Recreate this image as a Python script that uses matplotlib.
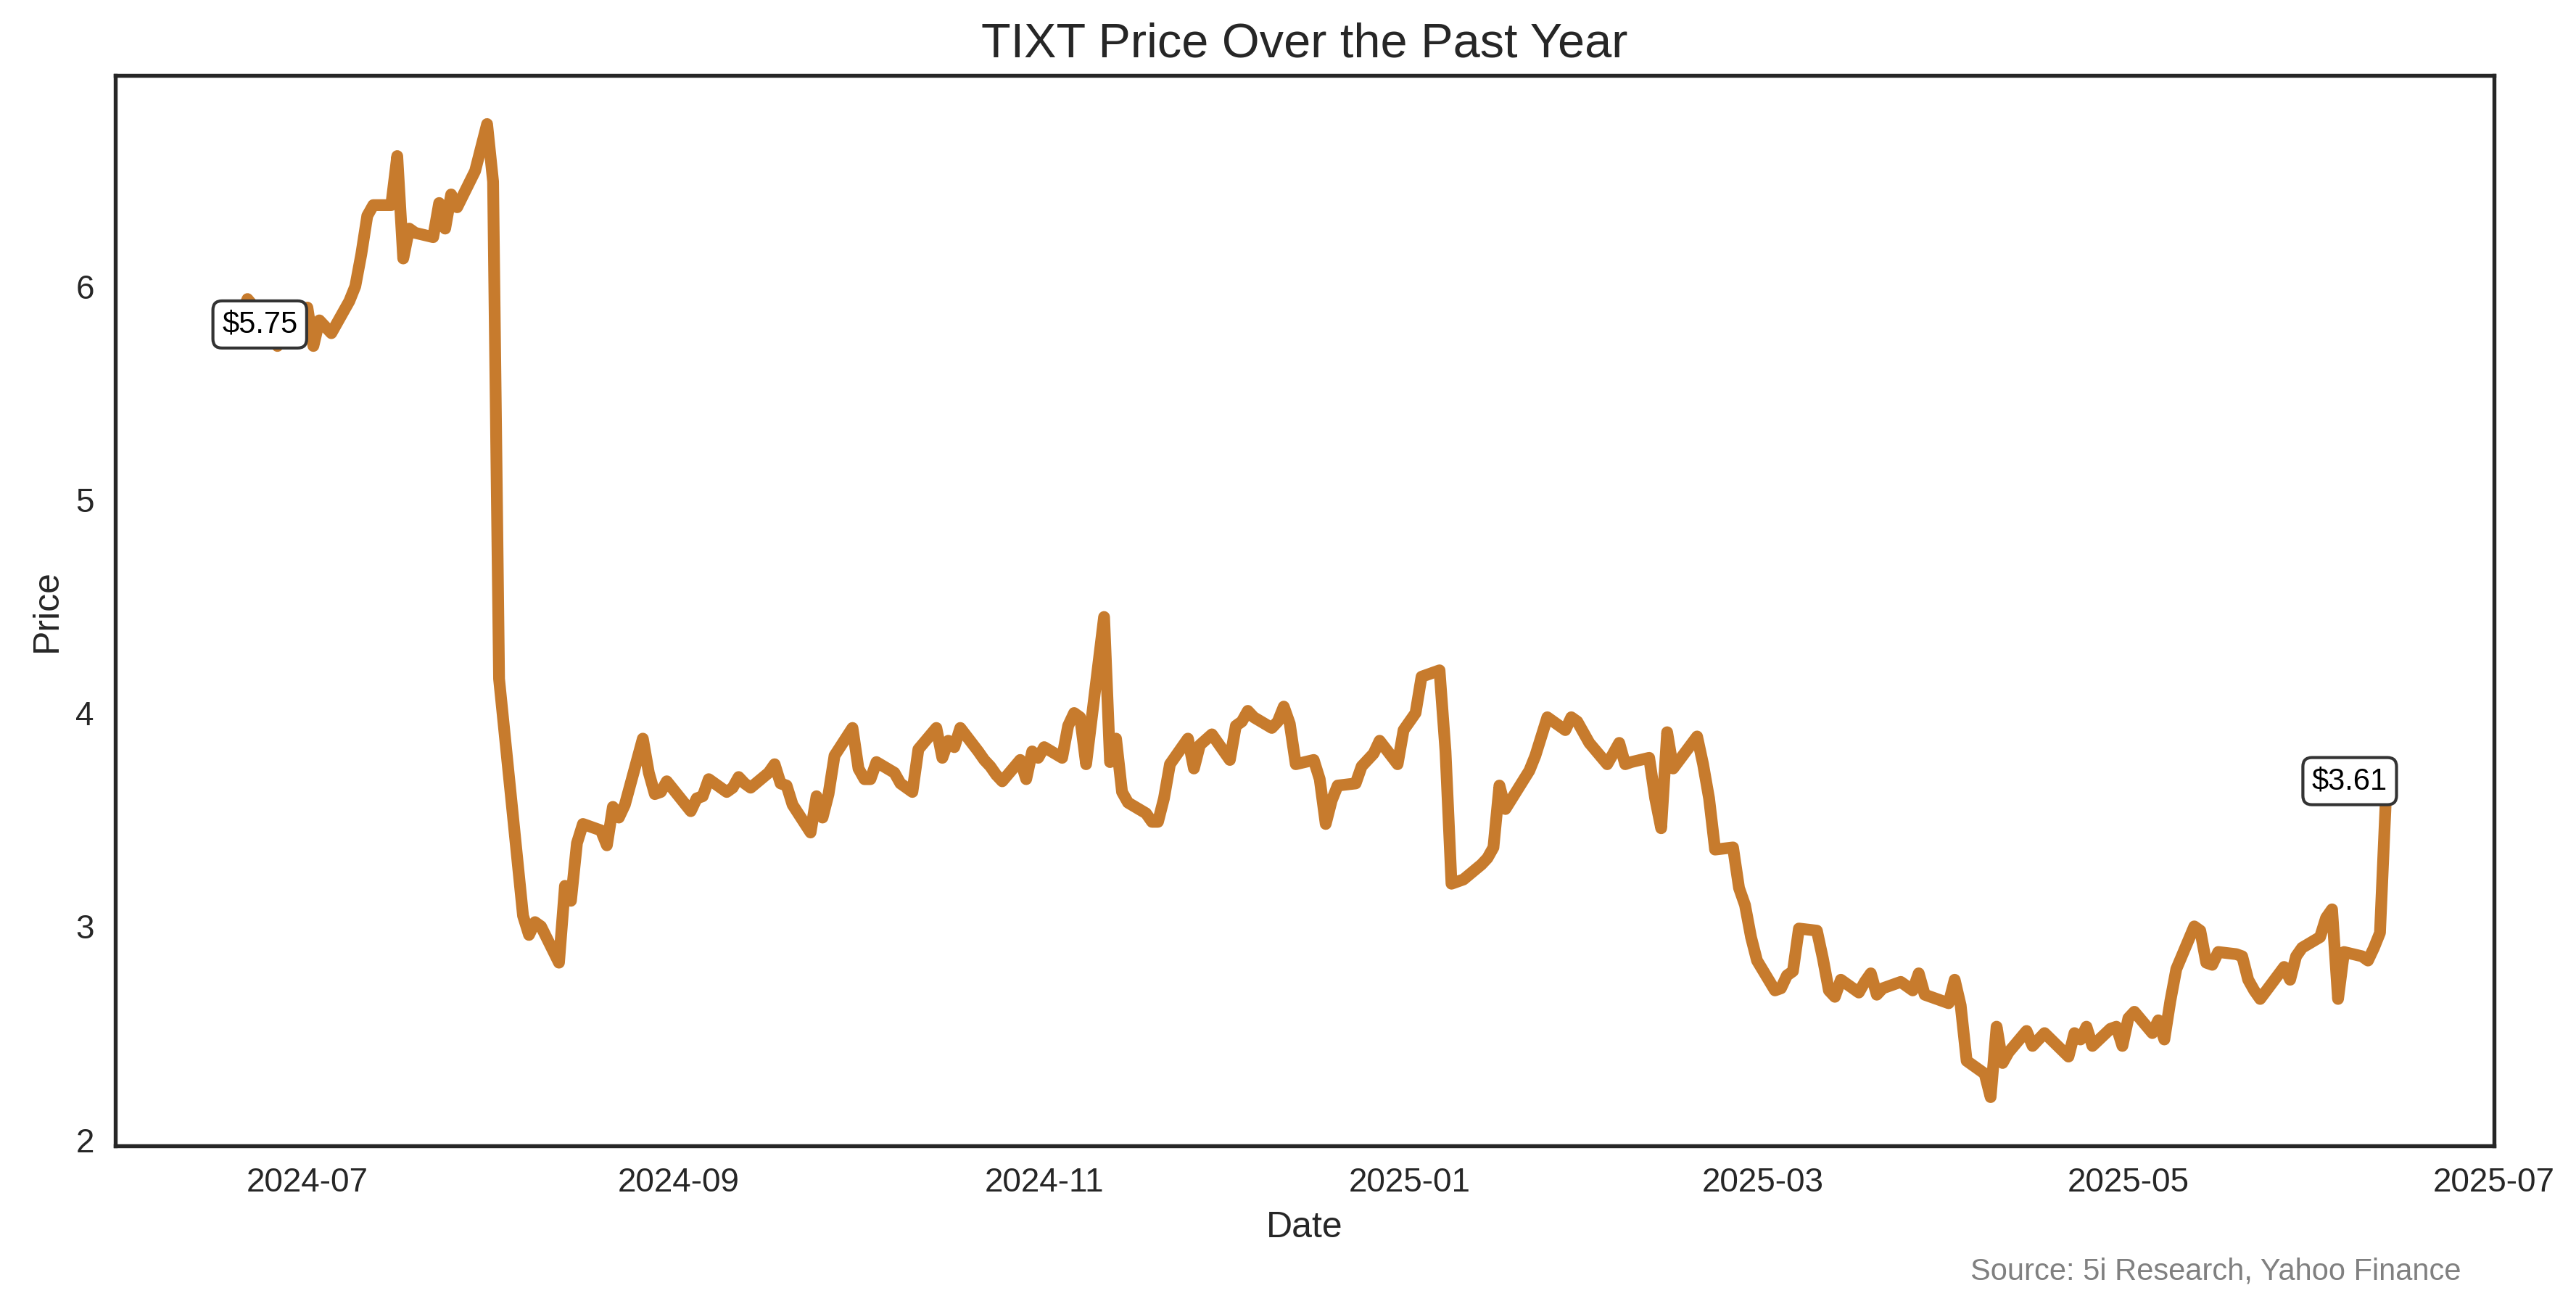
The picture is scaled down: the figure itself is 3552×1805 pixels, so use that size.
import matplotlib
matplotlib.use("Agg")
import matplotlib.pyplot as plt
import pandas as pd
import seaborn as sns

# TIXT closing prices (vertices of the line)
dates = [
    "2024-06-17", "2024-06-18", "2024-06-20", "2024-06-21", "2024-06-24", "2024-06-25",
    "2024-06-26", "2024-06-27", "2024-06-28", "2024-07-01", "2024-07-02", "2024-07-03",
    "2024-07-05", "2024-07-08", "2024-07-09", "2024-07-10", "2024-07-11", "2024-07-12",
    "2024-07-15", "2024-07-16", "2024-07-17", "2024-07-18", "2024-07-19", "2024-07-22",
    "2024-07-23", "2024-07-24", "2024-07-25", "2024-07-26", "2024-07-29", "2024-07-31",
    "2024-08-01", "2024-08-02", "2024-08-06", "2024-08-07", "2024-08-08", "2024-08-09",
    "2024-08-12", "2024-08-13", "2024-08-14", "2024-08-15", "2024-08-16", "2024-08-19",
    "2024-08-20", "2024-08-21", "2024-08-22", "2024-08-23", "2024-08-26", "2024-08-27",
    "2024-08-28", "2024-08-29", "2024-08-30", "2024-09-03", "2024-09-04", "2024-09-05",
    "2024-09-06", "2024-09-09", "2024-09-10", "2024-09-11", "2024-09-12", "2024-09-13",
    "2024-09-16", "2024-09-17", "2024-09-18", "2024-09-19", "2024-09-20", "2024-09-23",
    "2024-09-24", "2024-09-25", "2024-09-26", "2024-09-27", "2024-09-30", "2024-10-01",
    "2024-10-02", "2024-10-03", "2024-10-04", "2024-10-07", "2024-10-08", "2024-10-09",
    "2024-10-10", "2024-10-11", "2024-10-14", "2024-10-15", "2024-10-16", "2024-10-17",
    "2024-10-18", "2024-10-21", "2024-10-22", "2024-10-23", "2024-10-24", "2024-10-25",
    "2024-10-28", "2024-10-29", "2024-10-30", "2024-10-31", "2024-11-01", "2024-11-04",
    "2024-11-05", "2024-11-06", "2024-11-07", "2024-11-08", "2024-11-11", "2024-11-12",
    "2024-11-13", "2024-11-14", "2024-11-15", "2024-11-18", "2024-11-19", "2024-11-20",
    "2024-11-21", "2024-11-22", "2024-11-25", "2024-11-26", "2024-11-27", "2024-11-29",
    "2024-12-02", "2024-12-03", "2024-12-04", "2024-12-05", "2024-12-06", "2024-12-09",
    "2024-12-10", "2024-12-11", "2024-12-12", "2024-12-13", "2024-12-16", "2024-12-17",
    "2024-12-18", "2024-12-19", "2024-12-20", "2024-12-23", "2024-12-24", "2024-12-26",
    "2024-12-27", "2024-12-30", "2024-12-31", "2025-01-02", "2025-01-03", "2025-01-06",
    "2025-01-07", "2025-01-08", "2025-01-10", "2025-01-13", "2025-01-14", "2025-01-15",
    "2025-01-16", "2025-01-17", "2025-01-21", "2025-01-22", "2025-01-23", "2025-01-24",
    "2025-01-27", "2025-01-28", "2025-01-29", "2025-01-30", "2025-01-31", "2025-02-03",
    "2025-02-04", "2025-02-05", "2025-02-06", "2025-02-07", "2025-02-10", "2025-02-11",
    "2025-02-12", "2025-02-13", "2025-02-14", "2025-02-18", "2025-02-19", "2025-02-20",
    "2025-02-21", "2025-02-24", "2025-02-25", "2025-02-26", "2025-02-27", "2025-02-28",
    "2025-03-03", "2025-03-04", "2025-03-05", "2025-03-06", "2025-03-07", "2025-03-10",
    "2025-03-11", "2025-03-12", "2025-03-13", "2025-03-14", "2025-03-17", "2025-03-18",
    "2025-03-19", "2025-03-20", "2025-03-21", "2025-03-24", "2025-03-25", "2025-03-26",
    "2025-03-27", "2025-03-28", "2025-03-31", "2025-04-01", "2025-04-02", "2025-04-03",
    "2025-04-04", "2025-04-07", "2025-04-08", "2025-04-09", "2025-04-10", "2025-04-11",
    "2025-04-14", "2025-04-15", "2025-04-16", "2025-04-17", "2025-04-21", "2025-04-22",
    "2025-04-23", "2025-04-24", "2025-04-25", "2025-04-28", "2025-04-29", "2025-04-30",
    "2025-05-01", "2025-05-02", "2025-05-05", "2025-05-06", "2025-05-07", "2025-05-08",
    "2025-05-09", "2025-05-12", "2025-05-13", "2025-05-14", "2025-05-15", "2025-05-16",
    "2025-05-19", "2025-05-20", "2025-05-21", "2025-05-22", "2025-05-23", "2025-05-27",
    "2025-05-28", "2025-05-29", "2025-05-30", "2025-06-02", "2025-06-03", "2025-06-04",
    "2025-06-05", "2025-06-06", "2025-06-09", "2025-06-10", "2025-06-11", "2025-06-12",
    "2025-06-13",
]
prices = [
    5.75, 5.80, 5.87, 5.94, 5.84, 5.78,
    5.72, 5.80, 5.86, 5.90, 5.72, 5.84,
    5.78, 5.93, 6.00, 6.15, 6.33, 6.38,
    6.38, 6.61, 6.13, 6.27, 6.25, 6.23,
    6.39, 6.27, 6.43, 6.37, 6.54, 6.76,
    6.49, 4.16, 3.05, 2.96, 3.02, 3.00,
    2.83, 3.19, 3.12, 3.39, 3.48, 3.45,
    3.38, 3.56, 3.51, 3.57, 3.88, 3.72,
    3.62, 3.63, 3.68, 3.54, 3.60, 3.61,
    3.69, 3.63, 3.65, 3.70, 3.67, 3.65,
    3.72, 3.76, 3.67, 3.66, 3.57, 3.44,
    3.61, 3.51, 3.62, 3.80, 3.93, 3.74,
    3.69, 3.69, 3.77, 3.72, 3.67, 3.65,
    3.63, 3.83, 3.93, 3.79, 3.87, 3.84,
    3.93, 3.82, 3.78, 3.75, 3.71, 3.68,
    3.78, 3.69, 3.82, 3.79, 3.84, 3.79,
    3.94, 4.00, 3.98, 3.76, 4.45, 3.77,
    3.88, 3.63, 3.58, 3.53, 3.49, 3.49,
    3.60, 3.76, 3.88, 3.74, 3.85, 3.90,
    3.78, 3.94, 3.96, 4.01, 3.98, 3.93,
    3.96, 4.03, 3.95, 3.76, 3.78, 3.69,
    3.48, 3.59, 3.66, 3.67, 3.75, 3.81,
    3.87, 3.76, 3.92, 4.00, 4.17, 4.20,
    3.82, 3.20, 3.22, 3.29, 3.32, 3.37,
    3.66, 3.55, 3.73, 3.80, 3.89, 3.98,
    3.92, 3.98, 3.96, 3.91, 3.86, 3.76,
    3.81, 3.86, 3.76, 3.77, 3.79, 3.60,
    3.46, 3.91, 3.74, 3.89, 3.76, 3.60,
    3.36, 3.37, 3.18, 3.10, 2.95, 2.84,
    2.70, 2.71, 2.77, 2.79, 2.99, 2.98,
    2.85, 2.70, 2.67, 2.75, 2.69, 2.74,
    2.78, 2.68, 2.71, 2.74, 2.72, 2.70,
    2.78, 2.68, 2.65, 2.64, 2.75, 2.63,
    2.37, 2.31, 2.20, 2.53, 2.36, 2.41,
    2.51, 2.44, 2.47, 2.50, 2.39, 2.50,
    2.47, 2.53, 2.44, 2.52, 2.53, 2.44,
    2.57, 2.60, 2.50, 2.56, 2.47, 2.65,
    2.80, 3.00, 2.98, 2.83, 2.82, 2.88,
    2.87, 2.86, 2.75, 2.70, 2.66, 2.81,
    2.75, 2.86, 2.90, 2.95, 3.04, 3.08,
    2.66, 2.88, 2.86, 2.84, 2.90, 2.97,
    3.61,
]

line_color = "#C77B2D"

sns.set_style("white")
plt.rcParams["font.family"] = ["Liberation Sans", "DejaVu Sans"]

x = pd.to_datetime(dates)

fig = plt.figure(figsize=(11.84, 6.0167), dpi=300)
ax = fig.add_axes([0.0448, 0.1247, 0.9234, 0.8177])

ax.plot(x, prices, color=line_color, linewidth=3.9)

# price labels at both ends
box = dict(boxstyle="round,pad=0.3", fc="white", ec="#333333", lw=1)
ax.annotate(f"${prices[0]:.2f}", xy=(x[0], prices[0]), xytext=(12, 5),
            textcoords="offset points", ha="center", va="center",
            fontsize=10, color="black", bbox=box)
ax.annotate(f"${prices[-1]:.2f}", xy=(x[-1], prices[-1]), xytext=(-12, 5),
            textcoords="offset points", ha="center", va="center",
            fontsize=10, color="black", bbox=box)

for side in ax.spines.values():
    side.set_linewidth(1.3)
    side.set_color("#262626")

ax.set_title("TIXT Price Over the Past Year", fontsize=16)
ax.set_xlabel("Date", fontsize=12)
ax.set_ylabel("Price", fontsize=12)
ax.tick_params(labelsize=11)

fig.text(0.9555, 0.0288, "Source: 5i Research, Yahoo Finance", ha="right", va="center",
         fontsize=10, color="gray")

fig.savefig("out.png", dpi=300)
